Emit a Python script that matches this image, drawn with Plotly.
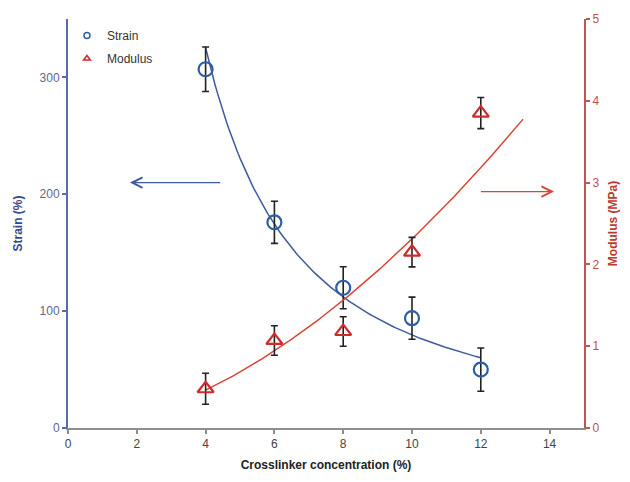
import numpy as np
import plotly.graph_objects as go

# ---- data ----
conc = [4, 6, 8, 10, 12]                    # Crosslinker concentration (%)
strain = [307, 176, 120, 94, 50]            # Strain (%)
strain_err = [19, 18, 18, 18, 18.5]
modulus = [0.48, 1.07, 1.18, 2.15, 3.85]    # Modulus (MPa)
modulus_err = [0.19, 0.18, 0.18, 0.18, 0.19]
modulus_forecast = 1.23                     # forward extension of modulus trendline

BLUE = "#2f5ea5"
BLUE_LINE = "#3f5b9c"
BLUE_AXIS = "#5a6ca6"
RED = "#d02a2a"
RED_LINE = "#db4535"
RED_AXIS = "#c0564e"
FONT = "Liberation Sans, Arial, sans-serif"


def power_fit(x, y, x0, x1):
    b, lna = np.polyfit(np.log(x), np.log(y), 1)
    xs = np.linspace(x0, x1, 120)
    return xs, np.exp(lna) * xs ** b


sx, sy = power_fit(conc, strain, conc[0], conc[-1])
mx, my = power_fit(conc, modulus, conc[0], conc[-1] + modulus_forecast)

fig = go.Figure()

# trendlines
fig.add_trace(go.Scatter(x=sx, y=sy, mode="lines", line=dict(color=BLUE_LINE, width=1.5),
                         showlegend=False, hoverinfo="skip", yaxis="y"))
fig.add_trace(go.Scatter(x=mx, y=my, mode="lines", line=dict(color=RED_LINE, width=1.5),
                         showlegend=False, hoverinfo="skip", yaxis="y2"))

# data points
fig.add_trace(go.Scatter(
    x=conc, y=strain, mode="markers", name="Strain", showlegend=False,
    marker=dict(symbol="circle-open", size=14, color=BLUE, line=dict(width=2.2, color=BLUE)),
    error_y=dict(type="data", array=strain_err, color="#222222", thickness=1.6, width=3.5),
    yaxis="y"))
fig.add_trace(go.Scatter(
    x=conc, y=modulus, mode="markers", name="Modulus", showlegend=False,
    marker=dict(symbol="triangle-up-open", size=14, color=RED, line=dict(width=2.2, color=RED)),
    error_y=dict(type="data", array=modulus_err, color="#222222", thickness=1.6, width=3.5),
    yaxis="y2"))

# legend entries (small symbols, as in the reference)
fig.add_trace(go.Scatter(x=[None], y=[None], mode="markers", name="Strain", legendgroup="a",
                         marker=dict(symbol="circle-open", size=6, color=BLUE,
                                     line=dict(width=1.5, color=BLUE))))
fig.add_trace(go.Scatter(x=[None], y=[None], mode="markers", name="Modulus", legendgroup="b",
                         marker=dict(symbol="triangle-up-open", size=6, color=RED,
                                     line=dict(width=1.5, color=RED)), yaxis="y2"))

# direction arrows
fig.add_annotation(x=1.8, y=210, ax=4.47, ay=210, xref="x", yref="y", axref="x", ayref="y",
                   text="", showarrow=True, arrowhead=5, arrowsize=1.7, arrowwidth=1.2,
                   arrowcolor=BLUE_LINE)
fig.add_annotation(x=14.13, y=2.89, ax=11.96, ay=2.89, xref="x", yref="y2", axref="x", ayref="y2",
                   text="", showarrow=True, arrowhead=5, arrowsize=1.7, arrowwidth=1.2,
                   arrowcolor=RED_LINE)

fig.update_layout(
    width=630, height=482,
    margin=dict(l=68, r=42, t=19, b=51),
    paper_bgcolor="white", plot_bgcolor="white",
    font=dict(family=FONT, size=12, color="#404040"),
    showlegend=True,
    legend=dict(x=-0.002, y=0.995, xanchor="left", yanchor="top", bgcolor="rgba(0,0,0,0)",
                font=dict(size=12, color="#333333"), itemwidth=30, tracegroupgap=4,
                traceorder="grouped"),
    xaxis=dict(range=[0, 15], tickvals=[0, 2, 4, 6, 8, 10, 12, 14], showgrid=False,
               zeroline=False, showline=True, linecolor="#8e8e8e", linewidth=2,
               ticks="outside", ticklen=4, tickcolor="#8e8e8e", tickwidth=1.5,
               tickfont=dict(size=12, color="#444444"),
               title=dict(text="<b>Crosslinker concentration (%)</b>", standoff=10,
                          font=dict(size=12, color="#222222"))),
    yaxis=dict(range=[0, 350], tickvals=[0, 100, 200, 300], showgrid=False, zeroline=False,
               showline=True, linecolor=BLUE_AXIS, linewidth=2, ticks="outside", ticklen=4,
               tickcolor=BLUE_AXIS, tickwidth=1.5, tickfont=dict(size=12, color="#5d6790"),
               title=dict(text="<b>Strain (%)</b>", standoff=14,
                          font=dict(size=12, color="#34498a"))),
    yaxis2=dict(range=[0, 5], tickvals=[0, 1, 2, 3, 4, 5], overlaying="y", side="right",
                showgrid=False, zeroline=False, showline=True, linecolor=RED_AXIS, linewidth=2,
                ticks="outside", ticklen=4, tickcolor=RED_AXIS, tickwidth=1.5,
                tickfont=dict(size=12, color="#c0504d"),
                title=dict(text="<b>Modulus (MPa)</b>", standoff=10,
                           font=dict(size=12, color="#c0392b"))),
)

fig.write_html("out.html")
